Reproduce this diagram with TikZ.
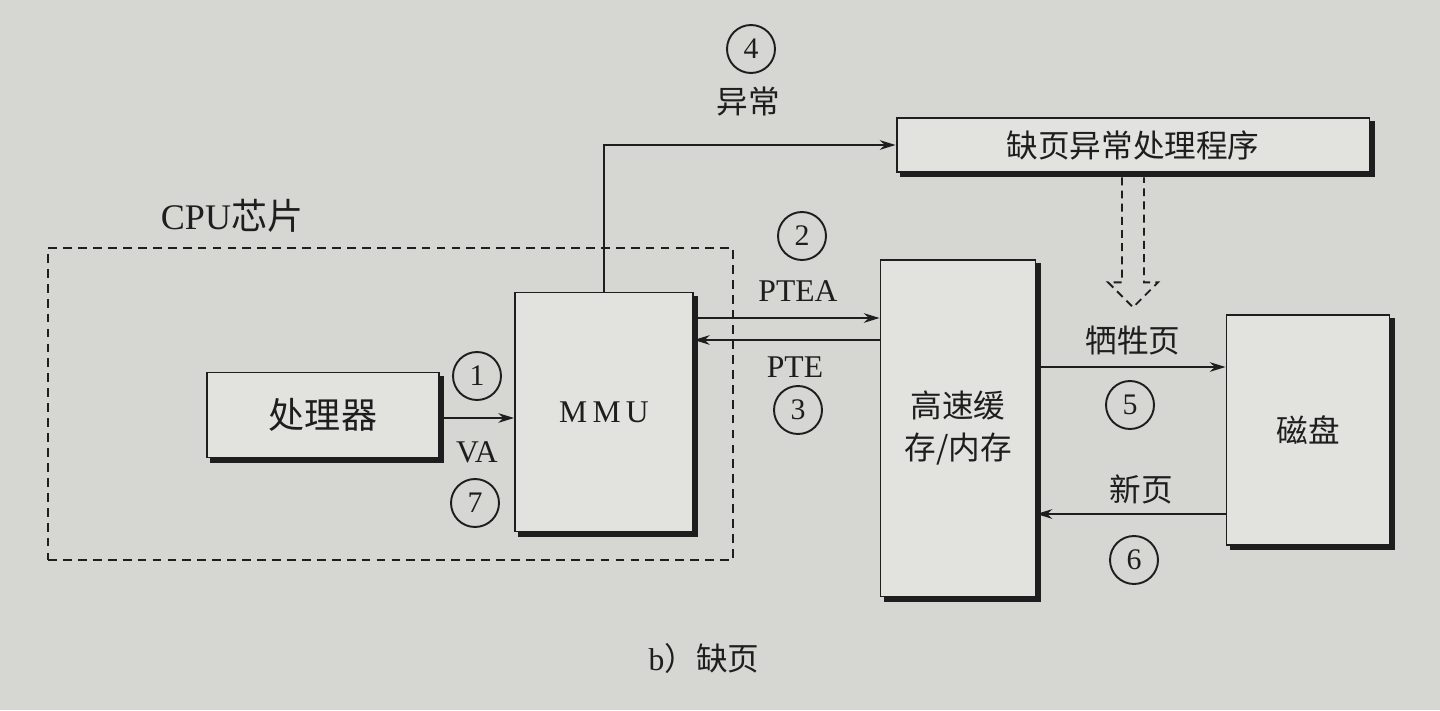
\documentclass[tikz,border=0pt]{standalone}
\usepackage{fontspec}
\setmainfont{Liberation Serif}
\newfontfamily\cjk{Noto Sans CJK SC}
\usetikzlibrary{arrows.meta,calc}
\definecolor{paper}{RGB}{214,214,210}
\definecolor{boxc}{RGB}{226,226,222}
\definecolor{inkc}{RGB}{30,30,30}
\newcommand\cjkf{\cjk\fontsize{18pt}{24pt}\selectfont}
\newcommand\cjkbig{\cjk\fontsize{20.5pt}{24pt}\selectfont}
\newcommand\latf{\fontsize{18pt}{22pt}\selectfont}
\newcommand\numf{\fontsize{17pt}{20pt}\selectfont}
\begin{document}
\begin{tikzpicture}[x=0.02cm,y=-0.02cm,
  box/.style={draw=inkc, line width=1.1pt, fill=boxc, inner sep=0pt, text=inkc},
  cpubox/.style={draw=inkc, line width=1.2pt, dash pattern=on 5pt off 3.5pt, inner sep=0pt},
  shadowline/.style={draw=inkc, line width=2.6pt},
  arr/.style={draw=inkc, line width=1.1pt, -{Stealth[length=9pt,width=5.5pt]}},
  numc/.style={circle, draw=inkc, line width=1.1pt, minimum size=0.96cm, inner sep=0pt, font=\numf, text=inkc},
  lab/.style={text=inkc, inner sep=1pt}]
\fill[paper] (0,0) rectangle (1440,710);
\useasboundingbox (0,0) rectangle (1440,710);

% CPU chip dashed region
\node[cpubox, minimum width=13.7cm, minimum height=6.24cm] (cpu) at (390.5,404) {};
\node[lab, font=\cjkbig] (cpulab) at (232,216) {\fontspec{Liberation Serif}CPU\cjk 芯片};

% boxes
\node[box, minimum width=4.64cm, minimum height=1.7cm, font=\cjkbig] (proc) at (323,415) {处理器};
\node[box, minimum width=3.56cm, minimum height=4.78cm, font=\latf] (mmu) at (604,412) {M\,M\,U};
\node[box, minimum width=9.46cm, minimum height=1.08cm, font=\cjkf] (handler) at (1133,145) {缺页异常处理程序};
\node[box, minimum width=3.1cm, minimum height=6.74cm, font=\cjkf, align=center] (cache) at (958,428) {高速缓\\存/内存};
\node[box, minimum width=3.26cm, minimum height=4.6cm, font=\cjkf] (disk) at (1308,430) {磁盘};

% shadows
\foreach \n in {proc,mmu,handler,cache,disk}
  \draw[shadowline] ([xshift=1.1pt,yshift=-2.5pt]\n.north east) -- ([xshift=1.1pt,yshift=-1.1pt]\n.south east) -- ([xshift=2.5pt,yshift=-1.1pt]\n.south west);

% connectors
\draw[arr] (proc.east |- 0,418) -- (mmu.west |- 0,418);
\draw[arr] (mmu.north) |- (handler.west);
\draw[arr] (mmu.east |- 0,318) -- (cache.west |- 0,318);
\draw[arr] (cache.west |- 0,340) -- (mmu.east |- 0,340);
\draw[arr] (cache.east |- 0,367) -- (disk.west |- 0,367);
\draw[arr] (disk.west |- 0,514) -- (cache.east |- 0,514);

% dashed hollow arrow from handler
\coordinate (hs) at ([yshift=-2.5pt]handler.south);
\draw[draw=inkc, line width=1.1pt, dash pattern=on 4.5pt off 3pt, line join=miter]
  ($(hs)+(-11,0)$) -- ++(0,105) -- ++(-14,0) -- ++(25,25) -- ++(25,-25) -- ++(-14,0) -- ($(hs)+(11,0)$);

% labels and step numbers
\node[numc] (n1) at (477,376) {1};
\node[lab, font=\latf] (va) at (477,452) {VA};
\node[numc] (n7) at (475,503) {7};
\node[numc] (n4) at (751,49) {4};
\node[lab, font=\cjkf] (yc) at (748,102) {异常};
\node[numc] (n2) at (802,236) {2};
\node[lab, font=\latf] (ptea) at (798,291) {PTEA};
\node[lab, font=\latf] (pte) at (795,367) {PTE};
\node[numc] (n3) at (798,410) {3};
\node[lab, font=\cjkf] (xsy) at (1133,341) {牺牲页};
\node[numc] (n5) at (1130,405) {5};
\node[lab, font=\cjkf] (xy) at (1141,489) {新页};
\node[numc] (n6) at (1134,560) {6};

\node[lab, font=\cjkf] (cap) at (704,658) {\fontspec{Liberation Serif}b\cjk）缺页};
\end{tikzpicture}
\end{document}
